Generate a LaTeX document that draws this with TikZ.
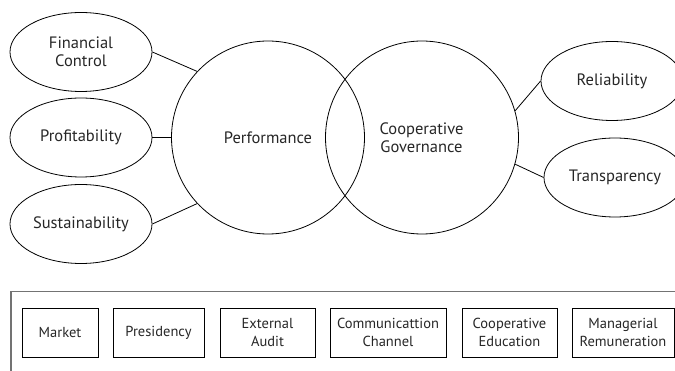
\documentclass[tikz,border=0pt]{standalone}
\usepackage{fontspec}
\setmainfont{PT Sans}
\usetikzlibrary{shapes.geometric}
\begin{document}
\begin{tikzpicture}[x=1pt,y=-1pt,
  every node/.style={font=\fontsize{16.5}{18}\selectfont, text=black!85, align=center},
  oval/.style={draw, ellipse, line width=0.8pt, minimum width=142pt, minimum height=79pt, inner sep=0pt},
  bigcircle/.style={draw, circle, line width=0.8pt, minimum size=193pt, inner sep=0pt},
  itembox/.style={draw, line width=0.8pt, minimum height=49pt, inner sep=0pt,
    font=\fontsize{14.5}{18}\selectfont},
  link/.style={line width=0.8pt}]
  \useasboundingbox (0,0) rectangle (675,371);
  \clip (0,0) rectangle (675,371);

  % central circles
  \node[bigcircle] (perf) at (268,137.5) {Performance};
  \node[bigcircle] (gov)  at (422,137.5) {};
  \node (govtext) at (421.5,138) {Cooperative\\Governance};

  % performance dimensions
  \node[oval] (fin)  at (81,52)  {Financial\\Control};
  \node[oval] (prof) at (81,137.5) {Profitability};
  \node[oval] (sust) at (81,224) {Sustainability};

  % governance dimensions
  \node[oval] (rel)   at (612,81)   {Reliability};
  \node[oval] (trans) at (615,177.5) {Transparency};

  \draw[link] (fin.east) -- (perf.137);
  \draw[link] (prof.east) -- (perf.west);
  \draw[link] (sust.east) -- (perf.223);
  \draw[link] (gov.16.5) -- (rel.west);
  \draw[link] (gov.-16.3) -- (trans.west);

  % mechanisms panel
  \node[draw=black!55, line width=1.5pt, minimum width=700pt, minimum height=120pt, anchor=north west, inner sep=0pt] (panel) at (10,291) {};
  \node[itembox, minimum width=76pt] (m1) at (60,332.5) {Market};
  \node[itembox, minimum width=91pt] (m2) at (158.5,332.5) {Presidency};
  \node[itembox, minimum width=95pt] (m3) at (267.5,332.5) {External\\Audit};
  \node[itembox, minimum width=116pt] (m4) at (388,332.5) {Communicattion\\Channel};
  \node[itembox, minimum width=95pt] (m5) at (509.5,332.5) {Cooperative\\Education};
  \node[itembox, minimum width=102pt] (m6) at (623,332.5) {Managerial\\Remuneration};
\end{tikzpicture}
\end{document}
